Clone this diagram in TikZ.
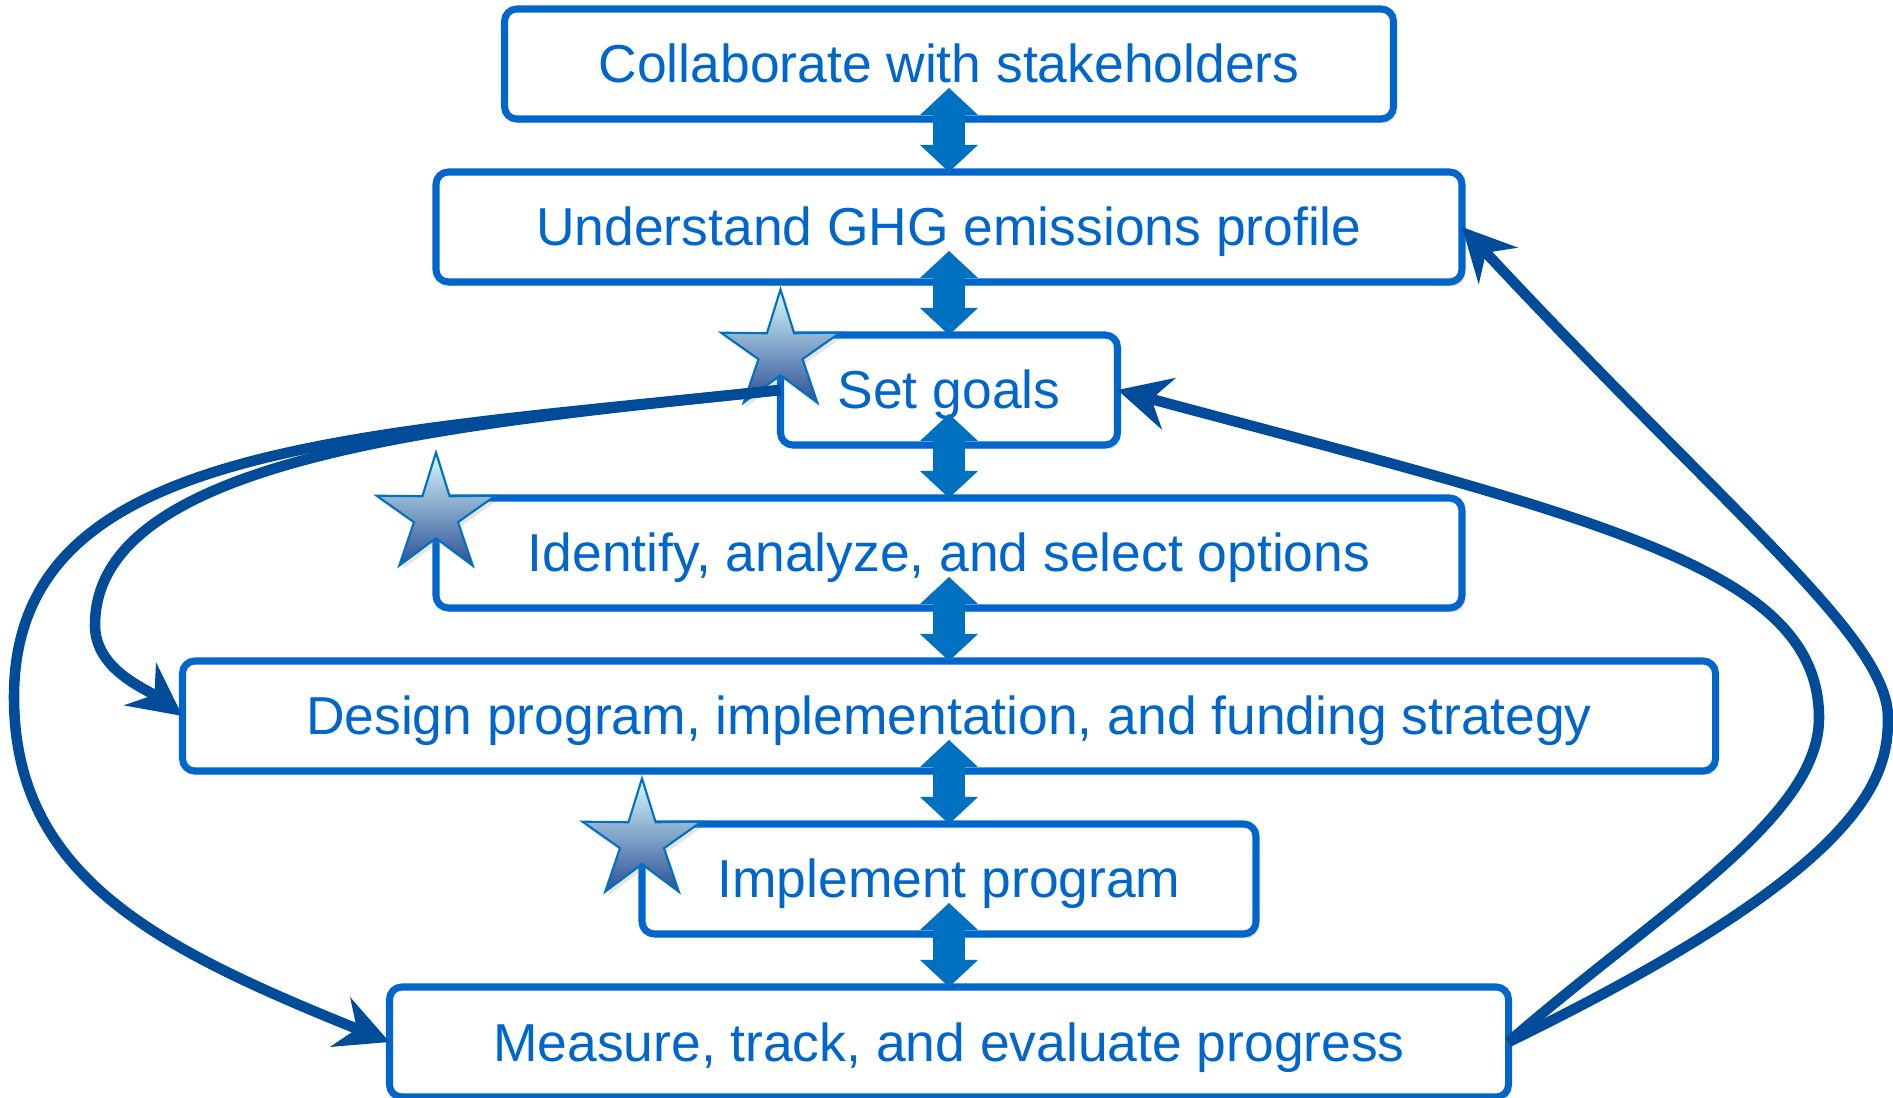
\documentclass[tikz,border=0pt]{standalone}
\usepackage{fontspec}
\setmainfont{Liberation Sans}
\usetikzlibrary{positioning,arrows.meta,shapes.geometric,shadows}
\definecolor{boxblue}{RGB}{0,102,204}
\definecolor{linkblue}{RGB}{0,112,192}
\definecolor{backblue}{RGB}{0,76,153}
\definecolor{starlight}{RGB}{215,250,253}
\definecolor{starmid}{RGB}{150,196,215}
\definecolor{stardark}{RGB}{45,80,150}

\begin{document}
\begin{tikzpicture}[
    stepbox/.style={draw=boxblue, line width=2pt, rounded corners=3.5pt, fill=white, text=boxblue,
        font=\fontsize{15.2}{18}\selectfont, text height=0.38cm, text depth=0cm,
        minimum height=1.1cm, inner sep=0pt, outer sep=0pt,
        drop shadow={opacity=0.25, shadow xshift=0.8pt, shadow yshift=-1.2pt}},
    dblarrow/.style={linkblue, line width=0.32cm,
        {Triangle[length=0.27cm,width=0.58cm,line width=0pt]}-{Triangle[length=0.27cm,width=0.58cm,line width=0pt]}},
    backarrow/.style={backblue, line width=3pt, -{Stealth[length=15pt,width=15pt,inset=5pt]}},
    keystar/.style={star, star points=5, star point ratio=2.7, minimum size=1.25cm, inner sep=0pt,
        draw=linkblue, line width=0.6pt, top color=starlight, middle color=starmid, bottom color=stardark,
        drop shadow={opacity=0.2, shadow xshift=0.8pt, shadow yshift=-1.2pt}}
]
    \useasboundingbox (0,0) rectangle (18.93,-10.98);

    % Steps
    \node[stepbox, minimum width=8.89cm] (collab) at (9.49,-0.64) {Collaborate with stakeholders};
    \node[stepbox, minimum width=10.26cm, below=0.53cm of collab] (ghg) {Understand GHG emissions profile};
    \node[stepbox, minimum width=3.37cm, below=0.53cm of ghg] (goals) {Set goals};
    \node[stepbox, minimum width=10.26cm, below=0.53cm of goals] (options) {Identify, analyze, and select options};
    \node[stepbox, minimum width=15.33cm, below=0.53cm of options] (design) {Design program, implementation, and funding strategy};
    \node[stepbox, minimum width=6.14cm, below=0.53cm of design] (implement) {Implement program};
    \node[stepbox, minimum width=11.19cm, below=0.53cm of implement] (measure) {Measure, track, and evaluate progress};

    % Two-way links
    \draw[dblarrow] ([yshift=0.31cm]collab.south) -- (ghg.north);
    \draw[dblarrow] ([yshift=0.31cm]ghg.south) -- (goals.north);
    \draw[dblarrow] ([yshift=0.31cm]goals.south) -- (options.north);
    \draw[dblarrow] ([yshift=0.31cm]options.south) -- (design.north);
    \draw[dblarrow] ([yshift=0.31cm]design.south) -- (implement.north);
    \draw[dblarrow] ([yshift=0.31cm]implement.south) -- (measure.north);

    % Stars
    \node[keystar] (goalstar) at ([yshift=-0.17cm]goals.north west) {};
    \node[keystar] (optionstar) at ([yshift=-0.17cm]options.north west) {};
    \node[keystar] (implementstar) at ([yshift=-0.17cm]implement.north west) {};

    % Feedback loops
    \coordinate (leftnear) at (0.95,-6.25);
    \coordinate (leftfar) at (0.14,-6.97);
    \coordinate (rightnear) at (18.19,-7.18);
    \coordinate (rightfar) at (18.88,-7.18);
    \draw[backarrow] (goals.west) .. controls +(186:3.2) and +(0,1.7) .. (leftnear)
        .. controls +(0,-0.45) and +(143:0.45) .. (design.west);
    \draw[backarrow] (goals.west) .. controls +(186:4.5) and +(0,2.5) .. (leftfar)
        .. controls +(0,-1.8) and +(158:2.5) .. (measure.west);
    \draw[backarrow] (measure.east) .. controls +(41:2) and +(0,-1) .. (rightnear)
        .. controls +(0,1.5) and +(-15:5) .. (goals.east);
    \draw[backarrow] (measure.east) .. controls +(26:4) and +(0,-0.6) .. (rightfar)
        .. controls +(0,0.8) and +(-47:4) .. (ghg.east);
\end{tikzpicture}
\end{document}
